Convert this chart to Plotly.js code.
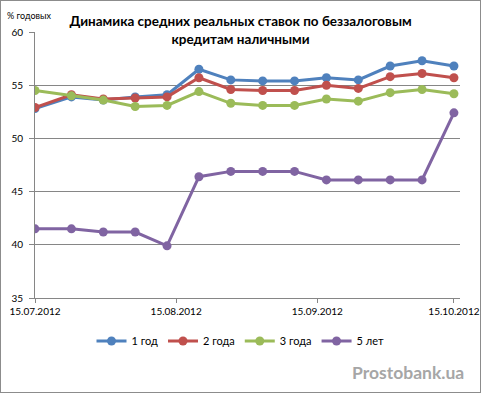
<!DOCTYPE html>
<html>
<head>
<meta charset="utf-8">
<script src="https://cdn.plot.ly/plotly-3.0.1.min.js"></script>
<style>
html,body{margin:0;padding:0;background:#fff;}
#wrap{position:relative;width:481px;height:393px;}
#chart{width:481px;height:393px;}
#frame{position:absolute;left:0;top:0;width:479px;height:391px;border:1px solid #8c8c8c;pointer-events:none;}
</style>
</head>
<body>
<div id="wrap"><div id="chart"></div><div id="frame"></div></div>
<script>
const dates = ['2012-07-15','2012-07-23','2012-07-30','2012-08-06','2012-08-13','2012-08-20','2012-08-27','2012-09-03','2012-09-10','2012-09-17','2012-09-24','2012-10-01','2012-10-08','2012-10-15'];
const seriesNames = ['1 год','2 года','3 года','5 лет'];
const y1 = [52.8,53.9,53.6,53.9,54.1,56.5,55.5,55.4,55.4,55.7,55.5,56.8,57.3,56.8];
const y2 = [52.9,54.1,53.7,53.8,53.9,55.7,54.6,54.5,54.5,55.0,54.7,55.8,56.1,55.7];
const y3 = [54.5,54.0,53.6,53.0,53.1,54.4,53.3,53.1,53.1,53.7,53.5,54.3,54.6,54.2];
const y5 = [41.5,41.5,41.2,41.2,39.9,46.4,46.9,46.9,46.9,46.1,46.1,46.1,46.1,52.4];
const colors = ['#4F81BD','#C0504D','#9BBB59','#8064A2'];
const tickDates = ['2012-07-15','2012-08-15','2012-09-15','2012-10-15'];
const tickLabels = ['15.07.2012','15.08.2012','15.09.2012','15.10.2012'];

const font = 'Lato, "Noto Sans", sans-serif';
const ys = [y1,y2,y3,y5];
const traces = ys.map((y,i)=>({
  x: dates, y: y, name: seriesNames[i], type:'scatter', mode:'lines+markers',
  line:{color:colors[i], width:3},
  marker:{color:colors[i], size:9, symbol:'circle'}
}));

// plot area in px: x 35..460, y 32..298
const L=35, R=460, T=32, B=298;
const px2x = v => (v-L)/(R-L);
const px2y = v => (B-v)/(B-T);

const layout = {
  width:481, height:393,
  margin:{l:L, r:481-R, t:T, b:393-B},
  paper_bgcolor:'#fff', plot_bgcolor:'#fff',
  font:{family:font, size:10, color:'#000'},
  title:{text:'<b>Динамика средних реальных ставок по беззалоговым<br>кредитам наличными</b>',
    font:{family:font, size:13.5, color:'#000'}, xref:'container', x:0.5, xanchor:'center',
    yref:'container', y:1-26/393, yanchor:'middle'},
  xaxis:{type:'date', range:['2012-07-15','2012-10-16 08:00'],
    tickvals:tickDates, ticktext:tickLabels, ticks:'outside', ticklen:4, tickcolor:'#868686',
    showline:true, linecolor:'#868686', linewidth:1, showgrid:false, zeroline:false,
    tickfont:{family:font, size:10}, fixedrange:true},
  yaxis:{range:[35,60], dtick:5, tick0:35, ticks:'outside', ticklen:5, tickcolor:'#868686',
    ticklabelstandoff:4,
    showline:true, linecolor:'#868686', linewidth:1, showgrid:true, gridcolor:'#868686', gridwidth:1,
    zeroline:false, tickfont:{family:font, size:10}},
  showlegend:true,
  legend:{orientation:'h', xref:'container', yref:'container', x:0.5, xanchor:'center', y:1-341/393, yanchor:'middle',
    font:{family:font, size:11}, itemwidth:30, tracegroupgap:0, bgcolor:'rgba(0,0,0,0)'},
  annotations:[
    {text:'% годовых', xref:'paper', yref:'paper', x:px2x(5), y:px2y(15), xanchor:'left', yanchor:'middle', showarrow:false,
      font:{family:font, size:9, color:'#000'}},
    {text:'<b>Prostobank.ua</b>', xref:'paper', yref:'paper', x:px2x(466), y:px2y(372), xanchor:'right', yanchor:'middle', showarrow:false,
      font:{family:font, size:17.5, color:'#a6a6a6'}}
  ]
};
Plotly.newPlot('chart', traces, layout, {displayModeBar:false, staticPlot:true});
</script>
</body>
</html>
